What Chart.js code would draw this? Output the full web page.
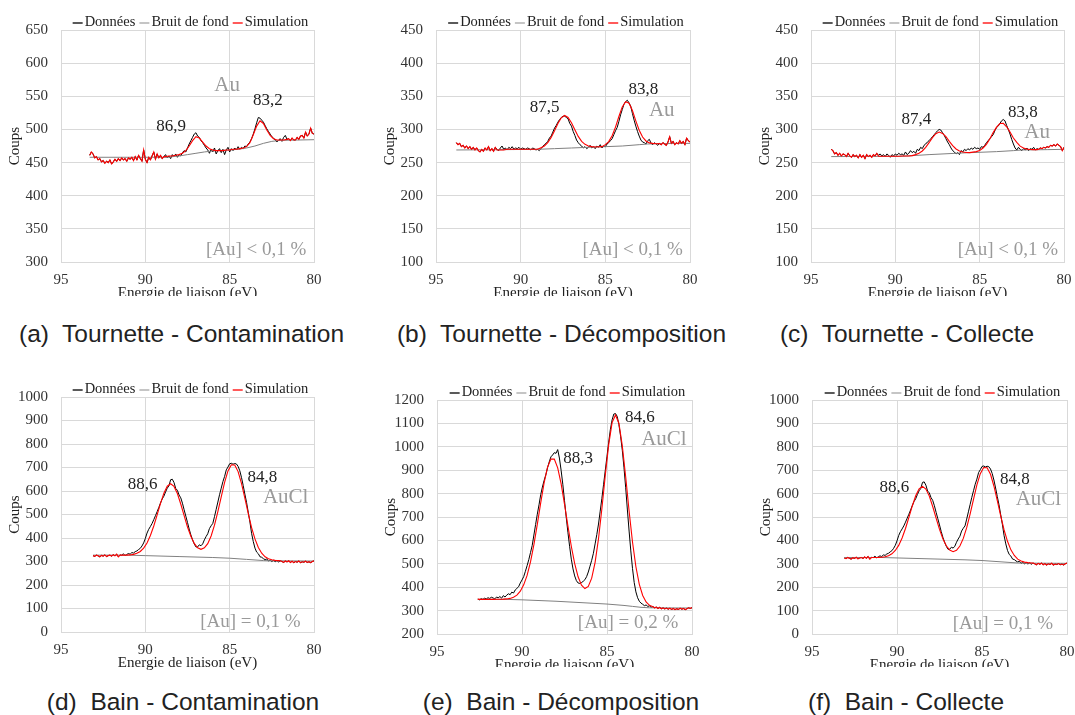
<!DOCTYPE html>
<html>
<head>
<meta charset="utf-8">
<script src="https://cdn.jsdelivr.net/npm/chart.js@4.4.1/dist/chart.umd.min.js"></script>
<style>
  html, body { margin: 0; padding: 0; background: #fff; width: 1075px; height: 715px; overflow: hidden; position: relative; }
  .clip { position: absolute; overflow: hidden; }
  .cap { position: absolute; font-family: "Liberation Sans", Arial, sans-serif; font-size: 24.5px; line-height: 28px;
         color: #222; white-space: pre; transform: translateX(-50%); }
</style>
</head>
<body>
<script>
// pas d'échantillonnage des spectres (eV)
const pasDonnees = 0.1;
const pasSimulation = 0.2;

// (a) Tournette - Contamination
const debutA = 93.3;
const donneesA = [
  461,466,463,457,459,454,456,451,453,449,
  452,450,454,448,451,455,452,456,453,457,
  454,456,452,457,455,458,453,459,454,461,
  456,452,469,455,450,458,454,460,466,455,
  463,457,461,456,459,462,457,460,456,462,
  459,463,458,462,460,465,468,466,472,478,
  483,488,493,495,490,488,483,480,476,472,
  469,464,470,466,472,463,468,471,465,470,
  462,469,473,466,471,468,472,469,474,470,
  473,471,475,474,478,481,486,493,501,510,
  518,517,514,511,506,501,497,493,489,487,
  484,481,484,486,482,488,491,485,486,483,
  487,484,484,488,485,490,491,487,496,490,
  493,502,494,493
];
const debutSimA = 88.8;
const simulationA = [
  459,460,460,461,462,464,468,475,483,489,
  487,481,475,471,469,468,468,468,469,469,
  470,470,471,472,474,480,492,505,513,509,
  499,491,486,484,484,484,485
];
const energieFondA = [93.3, 88.7, 88, 87.5, 87, 86.5, 86, 85, 84.5, 84, 83.5, 83, 82.5, 82, 81, 80];
const fondA = [458, 458, 460, 462, 464, 466, 467.5, 469, 470, 472, 475, 479, 482, 483.5, 484, 484.5];

// (b) Tournette - Décomposition
const debutB = 93.8;
const donneesB = [
  280,277,279,274,276,272,275,271,274,270,
  273,269,272,268,266,270,267,272,269,274,
  268,271,267,273,270,268,272,275,270,272,
  269,273,271,274,270,272,271,273,270,272,
  271,270,272,271,269,272,271,269,270,268,
  271,274,277,279,282,287,290,296,302,306,
  311,315,318,320,320,318,316,309,305,297,
  291,284,280,277,275,272,274,271,273,276,
  272,274,271,275,273,277,272,275,274,278,
  280,283,286,292,298,303,312,322,330,338,
  342,344,340,335,324,314,305,297,290,284,
  281,280,278,283,285,279,277,280,278,276,
  279,277,280,278,276,281,289,279,282,277,
  280,278,283,279,282,277,287,283,281
];
const debutSimB = 91.4;
const simulationB = [
  269,269,269,270,270,270,270,270,270,270,
  270,270,270,272.5,275,280,288,298,309,317.5,
  321,318,310,299.5,289.5,282,277.5,275,274,273.5,
  273.8,274,277,281.6,290.4,303.5,319.5,334,342,339.5,
  328.5,313,298.8,288.6,282.6,279.7,279,278.5,278.7
];
const energieFondB = [93.8, 91, 89, 88, 87, 86, 85, 84, 83, 82.5, 82, 80];
const fondB = [269, 269.5, 270, 271, 272, 273, 274, 275, 277, 278, 278.5, 279];

// (c) Tournette - Collecte
const debutC = 93.8;
const donneesC = [
  270,268,263,265,261,264,260,263,262,259,
  264,260,258,262,259,261,257,262,258,261,
  256,262,259,261,258,262,260,264,261,263,
  260,262,259,263,261,258,262,260,263,261,
  264,262,263,261,266,262,264,268,265,267,
  264,270,268,273,271,276,278,281,283,286,
  289,292,295,298,300,299,295,291,286,281,
  277,272,268,266,263,265,262,268,266,270,
  268,271,269,272,270,273,271,272,270,274,
  273,276,280,283,286,289,292,298,303,305,
  309,313,315,313,306,300,293,285,278,272,
  269,273,270,268,271,269,272,268,271,270,
  273,269,271,270,272,271,273,272,274,273,
  276,275,277,275,278,276,274,268,273
];
const debutSimC = 91.0;
const simulationC = [
  259.5,259.5,259.5,259.5,259.5,259.5,259.5,260,260,260,
  260.5,262,264,267.5,273,280,287.6,293.5,296,294,
  289,282,275.5,270.5,267.5,266,265.3,265,265.7,266.5,
  268.3,272,277.5,285.6,295.2,303.5,309,309.2,304,296,
  287,280.5,274.8,271.9,270.3,269.8,269.6,269.6
];
const energieFondC = [93.8, 89.6, 88, 86, 84, 83, 82.5, 81, 80];
const fondC = [259, 259.5, 262, 264.5, 266.5, 268, 269, 269.5, 270];

// (d) Bain - Contamination, (f) Bain - Collecte : mêmes spectres
const debutD = 93.1;
const donneesD = [
  325,322,327,324,320,326,323,328,321,325,
  327,323,329,324,331,320,328,326,333,325,
  330,334,331,338,336,342,345,351,356,366,
  379,398,421,437,449,462,478,495,512,530,
  549,566,578,596,612,622,648,650,636,611,
  603,583,571,548,520,493,466,438,413,392,
  375,362,362,371,367,375,392,406,418,440,
  452,462,491,522,553,584,612,640,662,690,
  702,716,718,714,717,715,705,686,658,624,
  587,552,510,468,420,385,357,340,333,320,
  318,312,308,311,302,306,300,305,299,304,
  298,303,300,296,302,298,303,296,301,295,
  300,297,302,295,299,297,301,296,299,295,
  300,303
];
const debutSimD = 91.5;
const simulationD = [
  327,327,327.3,328,330.3,334.7,342.7,356.9,378.8,410.4,
  451,498.6,547.2,590.8,620.4,631,619.6,589.2,544.8,495.4,
  447,407.2,376.8,358.6,351.7,358,375.9,408.6,454.5,512.4,
  575.5,636.9,685.3,711.5,710.5,682.5,632.5,569.5,504.5,444.5,
  396.1,359.5,335.5,319.9,311.7,307.1,304.9,303.7
];
const energieFondD = [93.1, 91, 90, 88, 86, 85, 84, 83, 82.5, 80];
const fondD = [327, 327, 325, 321, 317, 314, 309, 304, 303, 302];

// (e) Bain - Décomposition
const debutE = 92.6;
const donneesE = [
  349,346,351,348,353,350,355,352,357,354,
  350,358,355,360,353,364,358,366,372,368,
  379,375,388,395,402,418,431,445,468,492,
  518,548,578,623,668,712,752,795,828,856,
  880,910,935,957,965,975,972,988,952,900,
  840,770,700,635,575,520,478,448,428,418,
  416,420,425,432,445,465,490,515,545,585,
  625,670,725,780,840,900,960,1020,1075,1115,
  1140,1142,1130,1095,1045,985,910,825,730,640,
  555,480,420,380,355,340,332,327,321,324,
  318,320,314,317,312,315,309,314,308,312,
  307,311,306,310,305,309,304,308,305,310,
  306,309,304,308,312,309,313
];
const debutSimE = 92.5;
const simulationE = [
  348,348,348,348,348,348.2,348.4,348.9,349.9,352.1,
  356.8,366.2,382.9,410,450.4,507.9,581.9,668.3,760.1,845.8,
  911.9,947.9,947.3,910,842.5,755.4,662.3,574.9,500.6,444.4,
  408.8,394.2,403,438.7,506.5,607.1,736.1,878.4,1009.4,1103.2,
  1136,1100.8,1004.6,871.2,725.6,593,487.4,412.1,364.6,337.1,
  322.5,316.1
];
const energieFondE = [92.6, 91, 90, 89, 88, 87, 86, 85, 84, 83.5, 83, 82.5, 80];
const fondE = [348, 348, 346, 343, 340, 336, 332, 328, 322, 318, 314, 312, 311];

// axes [min, max, pas]
const axeA = [300, 650, 50];
const axeB = [100, 450, 50];
const axeD = [0, 1000, 100];
const axeE = [200, 1200, 100];

// textes posés sur les graphes (énergie, coups)
const GRIS = '#9a9a9a', NOIR = '#222';
const notesA = [
  { t: 'Au', x: 85.15, y: 567, c: GRIS, s: 21 },
  { t: '83,2', x: 82.74, y: 544, c: NOIR, s: 17 },
  { t: '86,9', x: 88.47, y: 505, c: NOIR, s: 17 },
  { t: '[Au] < 0,1 %', x: 83.43, y: 318, c: GRIS, s: 19 }
];
const notesB = [
  { t: 'Au', x: 81.67, y: 328, c: GRIS, s: 21 },
  { t: '83,8', x: 82.76, y: 360, c: NOIR, s: 17 },
  { t: '87,5', x: 88.58, y: 333, c: NOIR, s: 17 },
  { t: '[Au] < 0,1 %', x: 83.39, y: 118, c: GRIS, s: 19 }
];
const notesC = [
  { t: 'Au', x: 81.59, y: 295, c: GRIS, s: 21 },
  { t: '83,8', x: 82.44, y: 325, c: NOIR, s: 17 },
  { t: '87,4', x: 88.75, y: 315, c: NOIR, s: 17 },
  { t: '[Au] < 0,1 %', x: 83.33, y: 118, c: GRIS, s: 19 }
];
const notesD = [
  { t: 'AuCl', x: 81.68, y: 574, c: GRIS, s: 21 },
  { t: '84,8', x: 83.06, y: 658, c: NOIR, s: 17 },
  { t: '88,6', x: 90.16, y: 628, c: NOIR, s: 17 },
  { t: '[Au] = 0,1 %', x: 83.77, y: 43, c: GRIS, s: 19 }
];
const notesE = [
  { t: 'AuCl', x: 81.65, y: 1030, c: GRIS, s: 21 },
  { t: '84,6', x: 83.07, y: 1125, c: NOIR, s: 17 },
  { t: '88,3', x: 86.7, y: 952, c: NOIR, s: 17 },
  { t: '[Au] = 0,2 %', x: 83.76, y: 247, c: GRIS, s: 19 }
];

function serie(debut, pas, ys) {
  return ys.map((y, i) => ({ x: +(debut - i * pas).toFixed(2), y }));
}
function paires(xs, ys) {
  return xs.map((x, i) => ({ x, y: ys[i] }));
}
// la simulation rejoint les données hors de la zone ajustée
function simulation(donnees, ajust) {
  const haut = ajust[0].x, bas = ajust[ajust.length - 1].x;
  return [
    ...donnees.filter(p => p.x > haut + 1e-6),
    ...ajust,
    ...donnees.filter(p => p.x < bas - 1e-6)
  ];
}

const SERIF = '"Liberation Serif", "Times New Roman", serif';
Chart.defaults.font.family = SERIF;

const legendeLigne = {
  id: 'legendeLigne',
  afterDraw(chart) {
    const { ctx, chartArea } = chart;
    ctx.save();
    ctx.font = '14.5px ' + SERIF;
    ctx.textBaseline = 'middle';
    const seg = 10, gap = 2, sep = 4;
    const items = chart.data.datasets.map(ds => ({ label: ds.label, color: ds.legendColor || ds.borderColor, w: ctx.measureText(ds.label).width }));
    const total = items.reduce((s, it) => s + seg + gap + it.w, 0) + sep * (items.length - 1);
    let x = (chartArea.left + chartArea.right) / 2 - total / 2 + 3;
    const y = chartArea.top - 7.5;
    items.forEach(it => {
      ctx.strokeStyle = it.color;
      ctx.lineWidth = 1.3;
      ctx.beginPath();
      ctx.moveTo(x, y + 0.5);
      ctx.lineTo(x + seg, y + 0.5);
      ctx.stroke();
      ctx.fillStyle = '#222';
      ctx.fillText(it.label, x + seg + gap, y);
      x += seg + gap + it.w + sep;
    });
    ctx.restore();
  }
};

const notes = {
  id: 'notes',
  afterDraw(chart, args, opts) {
    const { ctx, scales } = chart;
    ctx.save();
    ctx.textAlign = 'center';
    ctx.textBaseline = 'middle';
    (opts.items || []).forEach(n => {
      ctx.font = n.s + 'px ' + SERIF;
      ctx.fillStyle = n.c;
      ctx.fillText(n.t, scales.x.getPixelForValue(n.x), scales.y.getPixelForValue(n.y));
    });
    ctx.restore();
  }
};

const PAD_T = 20, PAD_R = 20, AXE_Y = 60, AXE_X = 40;

const panneaux = [
  { box: { l: 61, r: 314, t: 28, b: 262 }, clip: 34, debut: debutA, donnees: donneesA, debutSim: debutSimA, sim: simulationA, fx: energieFondA, fy: fondA, axe: axeA, notes: notesA, legende: 'Tournette - Contamination', lettre: 'a', cx: 181.5, cy: 334 },
  { box: { l: 436, r: 690, t: 28, b: 262 }, clip: 34, debut: debutB, donnees: donneesB, debutSim: debutSimB, sim: simulationB, fx: energieFondB, fy: fondB, axe: axeB, notes: notesB, legende: 'Tournette - Décomposition', lettre: 'b', cx: 561.5, cy: 334 },
  { box: { l: 811, r: 1064, t: 28, b: 262 }, clip: 34, debut: debutC, donnees: donneesC, debutSim: debutSimC, sim: simulationC, fx: energieFondC, fy: fondC, axe: axeB, notes: notesC, legende: 'Tournette - Collecte', lettre: 'c', cx: 907, cy: 334 },
  { box: { l: 61, r: 314, t: 395, b: 632 }, clip: 38, debut: debutD, donnees: donneesD, debutSim: debutSimD, sim: simulationD, fx: energieFondD, fy: fondD, axe: axeD, notes: notesD, legende: 'Bain - Contamination', lettre: 'd', cx: 183, cy: 702 },
  { box: { l: 437, r: 692, t: 398, b: 634 }, clip: 33, debut: debutE, donnees: donneesE, debutSim: debutSimE, sim: simulationE, fx: energieFondE, fy: fondE, axe: axeE, notes: notesE, legende: 'Bain - Décomposition', lettre: 'e', cx: 561, cy: 702 },
  { box: { l: 812, r: 1067, t: 398, b: 634 }, clip: 33, debut: debutD, donnees: donneesD, debutSim: debutSimD, sim: simulationD, fx: energieFondD, fy: fondD, axe: axeD, notes: notesD, legende: 'Bain - Collecte', lettre: 'f', cx: 906, cy: 702 }
];

const tickFont = { family: SERIF, size: 15 };
const grille = '#d9d9d9';

panneaux.forEach(p => {
  const { l, r, t, b } = p.box;
  const w = (r - l) + AXE_Y + PAD_R;
  const h = (b - t) + PAD_T + AXE_X;
  const wrap = document.createElement('div');
  wrap.className = 'clip';
  wrap.style.left = (l - AXE_Y) + 'px';
  wrap.style.top = (t - PAD_T) + 'px';
  wrap.style.width = w + 'px';
  wrap.style.height = ((b - t) + PAD_T + p.clip) + 'px';
  const canvas = document.createElement('canvas');
  canvas.width = w;
  canvas.height = h;
  canvas.style.width = w + 'px';
  canvas.style.height = h + 'px';
  wrap.appendChild(canvas);
  document.body.appendChild(wrap);

  const cap = document.createElement('div');
  cap.className = 'cap';
  cap.style.left = p.cx + 'px';
  cap.style.top = (p.cy - 14) + 'px';
  cap.textContent = '(' + p.lettre + ')  ' + p.legende;
  document.body.appendChild(cap);

  const donnees = serie(p.debut, pasDonnees, p.donnees);
  const ajust = serie(p.debutSim, pasSimulation, p.sim);

  new Chart(canvas, {
    type: 'line',
    data: {
      datasets: [
        { label: 'Données', data: donnees, borderColor: '#000', borderWidth: 1, pointRadius: 0, order: 3 },
        { label: 'Bruit de fond', data: paires(p.fx, p.fy), borderColor: '#808080', legendColor: '#a6a6a6', borderWidth: 1, pointRadius: 0, order: 2 },
        { label: 'Simulation', data: simulation(donnees, ajust), borderColor: '#ff0000', borderWidth: 1.1, pointRadius: 0, order: 1 }
      ]
    },
    options: {
      responsive: false,
      animation: false,
      devicePixelRatio: 1,
      layout: { padding: { top: PAD_T, right: PAD_R, left: 0, bottom: 0 } },
      plugins: { legend: { display: false }, tooltip: { enabled: false }, notes: { items: p.notes } },
      scales: {
        x: {
          type: 'linear', reverse: true, min: 80, max: 95,
          ticks: { stepSize: 5, padding: 9, font: tickFont, color: '#333', maxRotation: 0, callback: v => String(v) },
          grid: { color: grille, drawTicks: false },
          border: { color: grille },
          title: { display: true, text: 'Energie de liaison (eV)', font: tickFont, color: '#222', padding: { top: 0, bottom: 0 } },
          afterFit(s) { s.height = AXE_X; }
        },
        y: {
          min: p.axe[0], max: p.axe[1],
          ticks: { stepSize: p.axe[2], padding: 13, font: tickFont, color: '#333', callback: v => String(v) },
          grid: { color: grille, drawTicks: false },
          border: { color: grille },
          title: { display: true, text: 'Coups', font: tickFont, color: '#222', padding: { top: 5.5, bottom: 0 } },
          afterFit(s) { s.width = AXE_Y; }
        }
      }
    },
    plugins: [legendeLigne, notes]
  });
});
</script>
</body>
</html>
